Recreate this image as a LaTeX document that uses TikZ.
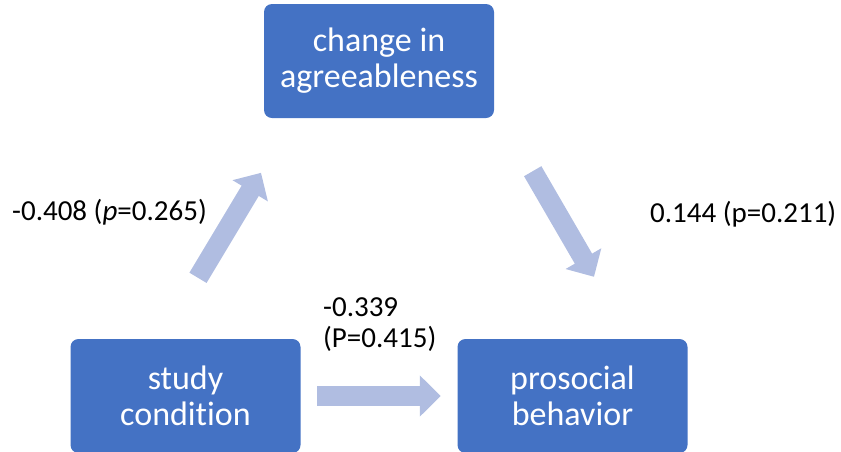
\documentclass[tikz,border=0pt]{standalone}
\usepackage{fontspec}
\setmainfont{Carlito}[Ligatures=NoCommon]
\usetikzlibrary{arrows.meta,calc,positioning}
\definecolor{boxblue}{RGB}{68,114,196}
\definecolor{arrowblue}{RGB}{176,189,225}
\tikzset{%
	varbox/.style    = {rectangle, rounded corners=8pt, fill=boxblue, text=white, minimum width=230pt, minimum height=114pt, inner sep=0pt, align=center, font=\fontsize{34}{36}\selectfont},
	blockarrow/.style = {line width=20pt, draw=arrowblue, -{Triangle[width=40pt,length=21pt]}},
	coef/.style      = {inner sep=0pt, anchor=base west, align=left, font=\fontsize{29}{31}\selectfont},
}

\begin{document}
\begin{tikzpicture}[x=1pt,y=-1pt]
	\useasboundingbox (0,0) rectangle (841,451);
	
	% variables
	\node[varbox] (change) at (379,61) {change in\\agreeableness};
	\node[varbox] (study) at (185.5,396) {study\\condition};
	\node[varbox] (prosocial) at (572.5,396) {prosocial\\behavior};
	
	% arrow ends
	\coordinate (a1) at ($(study.north)+(12.5,-61)$);
	\coordinate (b1) at ($(study.north)+(75.5,-166)$);
	\coordinate (a2) at ($(change.south east)+(38.5,53)$);
	\coordinate (b2) at ($(prosocial.north)+(21.5,-62)$);
	\coordinate (a3) at ($(study.east)+(16.5,0)$);
	\coordinate (b3) at ($(prosocial.west)+(-16.5,0)$);
	
	\draw[blockarrow] (a1) -- (b1);
	\draw[blockarrow] (a2) -- (b2);
	\draw[blockarrow] (a3) -- (b3);
	
	% coefficients
	\node[coef] (coefa) at (12,220) {-0.408 (\textit{p}=0.265)};
	\node[coef] (coefb) at (650,222) {0.144 (p=0.211)};
	\node[coef] (coefc) at (323,347) {-0.339\\(P=0.415)};
\end{tikzpicture}
\end{document}
